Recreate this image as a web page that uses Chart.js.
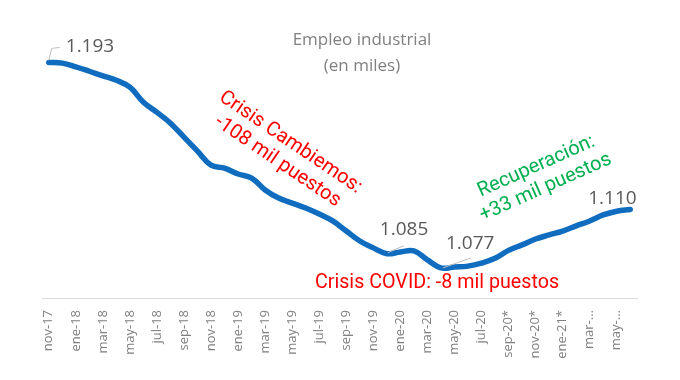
<!DOCTYPE html>
<html>
<head>
<meta charset="utf-8">
<script src="https://cdn.jsdelivr.net/npm/chart.js@4/dist/chart.umd.min.js"></script>
<style>
html,body{margin:0;padding:0;background:#fff;}
#wrap{width:680px;height:380px;position:relative;}
</style>
</head>
<body>
<div id="wrap"><canvas id="c" width="680" height="380"></canvas></div>
<script>
const categories = ['nov-17','dic-17','ene-18','feb-18','mar-18','abr-18','may-18','jun-18','jul-18','ago-18','sep-18','oct-18',
  'nov-18','dic-18','ene-19','feb-19','mar-19','abr-19','may-19','jun-19','jul-19','ago-19','sep-19','oct-19',
  'nov-19','dic-19','ene-20','feb-20','mar-20','abr-20','may-20','jun-20','jul-20','ago-20','sep-20*','oct-20*',
  'nov-20*','dic-20*','ene-21*','feb-21*','mar-21*','abr-21*','may-21*','jun-21*'];
const tickLabels = ['nov-17','ene-18','mar-18','may-18','jul-18','sep-18','nov-18','ene-19','mar-19','may-19','jul-19',
  'sep-19','nov-19','ene-20','mar-20','may-20','jul-20','sep-20*','nov-20*','ene-21*','mar-...','may-...'];
const empleo = [1193,1192.6,1190.5,1188,1185.4,1182.9,1179,1170.5,1164.8,1158.7,1150.8,1142.9,
  1135,1133.3,1130,1127.7,1121,1116.4,1113.6,1110.8,1107.4,1103.5,1097.8,1092.2,
  1088.3,1085,1086,1086.6,1081.5,1077,1077.5,1078,1079.7,1082.4,1086.9,1090,
  1093.3,1095.6,1097.8,1100.7,1103.5,1106.9,1109,1110];
const pointLabels = [
  {idx:0,  text:'1.193'},
  {idx:25, text:'1.085'},
  {idx:29, text:'1.077'},
  {idx:43, text:'1.110'}
];
const titleLines = ['Empleo industrial','(en miles)'];
const notes = {
  cambiemos: ['Crisis Cambiemos:','-108 mil puestos'],
  covid: 'Crisis COVID: -8 mil puestos',
  recuperacion: ['Recuperación:','+33 mil puestos']
};

const labelOffsets = {
  0:  {dx:17, dy:-16, align:'left',  leader:[[0,-2],[3,-14],[11,-15]]},
  25: {dx:-7, dy:-24, align:'left',  leader:[[1,-1],[17,-8]]},
  29: {dx:5,  dy:-24, align:'left',  leader:[[2,0],[30,-10]]},
  43: {dx:-42, dy:-11, align:'left', leader:null}
};

const annot = {
  id:'annot',
  afterDatasetsDraw(chart){
    const ctx = chart.ctx, xs = chart.scales.x, ys = chart.scales.y;
    ctx.save();
    ctx.fillStyle = '#808080';
    ctx.font = '17px "Open Sans"';
    ctx.textAlign = 'center';
    ctx.textBaseline = 'middle';
    ctx.fillText(titleLines[0], 362, 40);
    ctx.fillText(titleLines[1], 362, 66);
    pointLabels.forEach(p => {
      const px = xs.getPixelForValue(p.idx), py = ys.getPixelForValue(empleo[p.idx]);
      const o = labelOffsets[p.idx];
      if (o.leader){
        ctx.strokeStyle = '#bfbfbf'; ctx.lineWidth = 1;
        ctx.beginPath();
        o.leader.forEach((q,i)=>{ if(i===0) ctx.moveTo(px+q[0],py+q[1]); else ctx.lineTo(px+q[0],py+q[1]); });
        ctx.stroke();
      }
      ctx.fillStyle = '#595959';
      ctx.font = '19px "Open Sans"';
      ctx.textAlign = o.align; ctx.textBaseline = 'middle';
      ctx.fillText(p.text, px+o.dx, py+o.dy);
    });
    ctx.fillStyle = '#FF0000';
    ctx.font = '20px Roboto';
    ctx.textAlign = 'center'; ctx.textBaseline = 'middle';
    ctx.save();
    ctx.translate(284, 152);
    ctx.rotate(34*Math.PI/180);
    ctx.fillText(notes.cambiemos[0], 0, -11.5);
    ctx.fillText(notes.cambiemos[1], 0, 11.5);
    ctx.restore();
    ctx.font = '19.7px Roboto';
    ctx.fillText(notes.covid, 437, 283);
    ctx.font = '20px Roboto';
    ctx.fillStyle = '#00B050';
    ctx.save();
    ctx.translate(541, 177);
    ctx.rotate(-24*Math.PI/180);
    ctx.fillText(notes.recuperacion[0], 0, -11.5);
    ctx.fillText(notes.recuperacion[1], 0, 11.5);
    ctx.restore();
    ctx.restore();
  }
};

new Chart(document.getElementById('c'), {
  type:'line',
  data:{labels:categories, datasets:[{data:empleo, borderColor:'#0F6CBF', borderWidth:5.5, pointRadius:0, tension:0.4, fill:false, borderCapStyle:'round', borderJoinStyle:'round'}]},
  options:{
    responsive:false, animation:false, devicePixelRatio:1,
    layout:{padding:{top:50, left:42, right:43, bottom:0}},
    plugins:{legend:{display:false}, tooltip:{enabled:false}, title:{display:false}},
    scales:{
      x:{
        offset:true,
        grid:{display:false, drawTicks:false},
        border:{display:true, color:'#d9d9d9', width:1},
        ticks:{autoSkip:false, minRotation:90, maxRotation:90, padding:12, color:'#7f7f7f', font:{family:'"Open Sans"', size:13},
          callback:(v,i)=> i%2===0 ? tickLabels[i/2] : ''},
        afterFit:(s)=>{ s.height = 82; }
      },
      y:{display:false, min:1060, max:1200}
    }
  },
  plugins:[annot]
});
</script>
</body>
</html>
